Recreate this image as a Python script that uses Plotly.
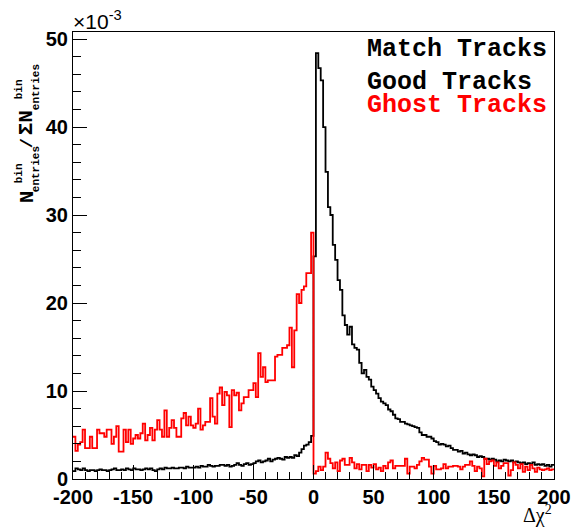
import plotly.graph_objects as go

# Histogram binning (2 units per bin over [-200, 200])
bin_low = -200.0
bin_width = 2.0

# Normalised bin contents, in units of 1e-3
good_tracks = [
    # -200 .. -2
    0.9, 1.2, 1.1, 1.0, 1.2, 1.0, 0.9, 1.0, 1.0, 0.9,
    1.0, 1.1, 1.0, 1.0, 0.9, 1.0, 1.1, 1.2, 1.0, 1.0,
    1.1, 1.0, 1.2, 1.1, 1.0, 1.2, 1.1, 1.1, 1.0, 1.1,
    1.2, 1.1, 1.2, 1.0, 0.9, 1.1, 1.2, 1.1, 1.3, 1.2,
    1.2, 1.3, 1.2, 1.2, 1.3, 1.3, 1.2, 1.4, 1.3, 1.3,
    1.3, 1.4, 1.3, 1.5, 1.4, 1.4, 1.6, 1.5, 1.4, 1.5,
    1.5, 1.6, 1.6, 1.5, 1.6, 1.4, 1.5, 1.6, 1.8, 1.6,
    1.5, 1.7, 1.8, 1.6, 1.7, 1.8, 2.0, 2.1, 1.9, 2.0,
    2.1, 2.3, 2.0, 2.2, 2.3, 2.4, 2.3, 2.2, 2.5, 2.4,
    2.5, 2.4, 2.7, 2.6, 3.0, 3.4, 3.8, 3.9, 4.2, 4.9,
    # 0 .. 198
    25.3, 48.4, 46.7, 45.3, 40.0, 34.9, 30.9, 30.0, 26.6, 24.9,
    22.6, 21.5, 18.6, 17.5, 16.4, 17.3, 15.3, 14.9, 14.7, 13.2,
    12.0, 12.4, 11.6, 11.3, 10.5, 10.1, 9.7, 9.2, 8.8, 8.6,
    8.4, 7.9, 7.7, 7.3, 6.9, 6.8, 6.5, 6.5, 6.3, 6.2,
    6.1, 6.0, 5.9, 5.8, 5.3, 5.0, 5.0, 4.8, 4.8, 4.6,
    4.3, 4.2, 3.9, 4.0, 3.9, 3.7, 3.8, 3.5, 3.3, 3.3,
    3.1, 3.2, 2.9, 3.0, 2.8, 2.7, 2.8, 2.7, 2.5, 2.6,
    2.5, 2.3, 2.3, 2.2, 2.3, 2.2, 2.0, 2.1, 2.0, 2.2,
    2.1, 2.0, 2.1, 1.9, 2.0, 1.9, 1.8, 1.9, 1.7, 1.8,
    1.7, 1.9, 1.6, 1.7, 1.6, 1.7, 1.5, 1.6, 1.4, 1.6,
]

ghost_tracks = [
    # -200 .. -2
    4.8, 3.2, 3.9, 4.2, 5.6, 3.5, 3.5, 4.8, 3.5, 3.5,
    5.6, 5.2, 5.2, 4.8, 5.6, 5.6, 4.0, 4.8, 6.0, 3.1,
    3.1, 5.6, 4.2, 5.6, 4.0, 4.6, 5.0, 4.6, 5.2, 6.3,
    4.4, 5.0, 5.8, 4.4, 5.6, 6.7, 5.6, 4.8, 7.8, 4.8,
    5.8, 6.7, 5.8, 4.8, 4.8, 6.9, 7.5, 6.1, 7.1, 6.1,
    5.8, 6.3, 8.0, 5.6, 6.1, 6.5, 6.5, 9.2, 7.1, 6.3,
    9.7, 10.4, 8.4, 9.9, 9.5, 5.9, 10.1, 9.5, 9.8, 7.8,
    8.6, 9.3, 9.3, 10.1, 10.1, 10.9, 9.3, 14.3, 11.6, 12.7,
    11.0, 11.2, 11.2, 11.2, 13.9, 14.1, 14.1, 14.9, 14.9, 15.2,
    17.2, 12.7, 16.9, 21.0, 20.0, 21.5, 21.9, 23.4, 23.4, 28.0,
    # 0 .. 198
    0.6, 0.9, 1.4, 1.0, 1.4, 3.0, 2.3, 1.8, 1.2, 1.9,
    0.9, 2.1, 2.3, 1.6, 1.6, 2.4, 1.9, 1.2, 1.7, 1.1,
    1.6, 1.6, 0.9, 1.6, 1.3, 1.7, 1.1, 1.3, 0.9, 1.5,
    1.2, 1.9, 2.1, 1.2, 1.5, 1.5, 1.5, 1.5, 2.3, 0.6,
    1.4, 1.4, 1.2, 1.6, 2.0, 2.4, 2.2, 2.2, 1.4, 0.6,
    1.5, 1.1, 1.1, 1.2, 1.7, 1.2, 1.4, 1.4, 1.5, 1.5,
    1.4, 1.1, 1.4, 1.6, 1.6, 2.0, 1.5, 0.9, 1.4, 1.2,
    0.3, 2.3, 1.7, 2.0, 2.1, 1.5, 1.9, 1.2, 1.5, 1.8,
    1.8, 0.4, 1.0, 1.9, 1.6, 1.2, 1.7, 0.8, 1.4, 1.0,
    1.6, 1.2, 0.8, 1.3, 1.1, 1.0, 1.1, 1.2, 1.0, 1.1,
]

x_tick_vals = [-200, -150, -100, -50, 0, 50, 100, 150, 200]
y_tick_vals = [0, 10, 20, 30, 40, 50]
legend_title = "Match Tracks"
series_names = ["Good Tracks", "Ghost Tracks"]
series_colors = ["#000000", "#ff0000"]

W, H = 583, 531
L, R, T, B = 73, 556.5, 32, 479


def px_x(px):
    return (px - L) / (R - L)


def px_y(py):
    return (B - py) / (B - T)


def steps(vals):
    edges = [bin_low + bin_width * i for i in range(len(vals) + 1)]
    return edges, list(vals) + [vals[-1]]


fig = go.Figure()
for name, vals, col in zip(series_names, [good_tracks, ghost_tracks], series_colors):
    xs, ys = steps(vals)
    fig.add_trace(go.Scatter(
        x=xs, y=ys, mode="lines", name=name,
        line=dict(color=col, width=1.8, shape="hv"),
        showlegend=False,
    ))

tick_font = dict(family="Liberation Sans, Arial, sans-serif", size=20,
                 color="black", weight="bold")

fig.update_layout(
    width=W, height=H, autosize=False,
    margin=dict(l=L, r=W - R, t=T, b=H - B, pad=0),
    paper_bgcolor="white", plot_bgcolor="white",
    xaxis=dict(
        range=[-200, 200], tickvals=x_tick_vals,
        ticktext=[str(v) for v in x_tick_vals],
        ticks="inside", ticklen=14, tickwidth=1, tickcolor="black",
        minor=dict(dtick=10, ticks="inside", ticklen=7, tickcolor="black", tickwidth=1),
        showline=True, linecolor="black", linewidth=1, mirror=True,
        showgrid=False, zeroline=False, tickfont=tick_font,
    ),
    yaxis=dict(
        range=[0, 50.8], tickvals=y_tick_vals,
        ticktext=[str(v) for v in y_tick_vals],
        ticks="inside", ticklen=14, tickwidth=1, tickcolor="black",
        minor=dict(dtick=2, ticks="inside", ticklen=8, tickcolor="black", tickwidth=1),
        showline=True, linecolor="black", linewidth=1, mirror=True,
        showgrid=False, zeroline=False, tickfont=tick_font,
    ),
)

mono = "Liberation Mono, Courier New, monospace"
ann = []

# legend block
legend_rows = [(legend_title, "black", 49)] + [
    (n, c, yc) for n, c, yc in zip(series_names, series_colors, [83, 105])
]
for text, col, yc in legend_rows:
    ann.append(dict(text=text, x=px_x(367), y=px_y(yc), xref="paper", yref="paper",
                    xanchor="left", yanchor="middle", showarrow=False,
                    font=dict(family=mono, size=25, color=col, weight="bold")))

# exponent marker of the y axis
ann.append(dict(text="\u00d710<sup>-3</sup>", x=px_x(71), y=px_y(20),
                xref="paper", yref="paper", xanchor="left", yanchor="middle",
                showarrow=False,
                font=dict(family="Liberation Sans, Arial, sans-serif", size=21, color="black")))

# x axis title
ann.append(dict(text="\u0394\u03c7<sup>2</sup>", x=px_x(557), y=px_y(514),
                xref="paper", yref="paper", xanchor="right", yanchor="middle",
                showarrow=False,
                font=dict(family="Liberation Serif, Times New Roman, serif", size=20, color="black")))

# y axis title, built from rotated pieces (stacked super/subscripts)
y_title_parts = [
    ("N", 27, 197, 21),
    ("entries", 36, 169, 11),
    ("bin", 19, 173, 11),
    ("/", 27, 143, 17),
    ("\u03a3N", 27, 123, 21),
    ("entries", 36, 87, 11),
    ("bin", 19, 89, 11),
]
for text, xc, yc, size in y_title_parts:
    ann.append(dict(text=text, x=px_x(xc), y=px_y(yc), xref="paper", yref="paper",
                    xanchor="center", yanchor="middle", textangle=-90, showarrow=False,
                    font=dict(family=mono, size=size, color="black", weight="bold")))

fig.update_layout(annotations=ann)
fig.write_html("out.html")
